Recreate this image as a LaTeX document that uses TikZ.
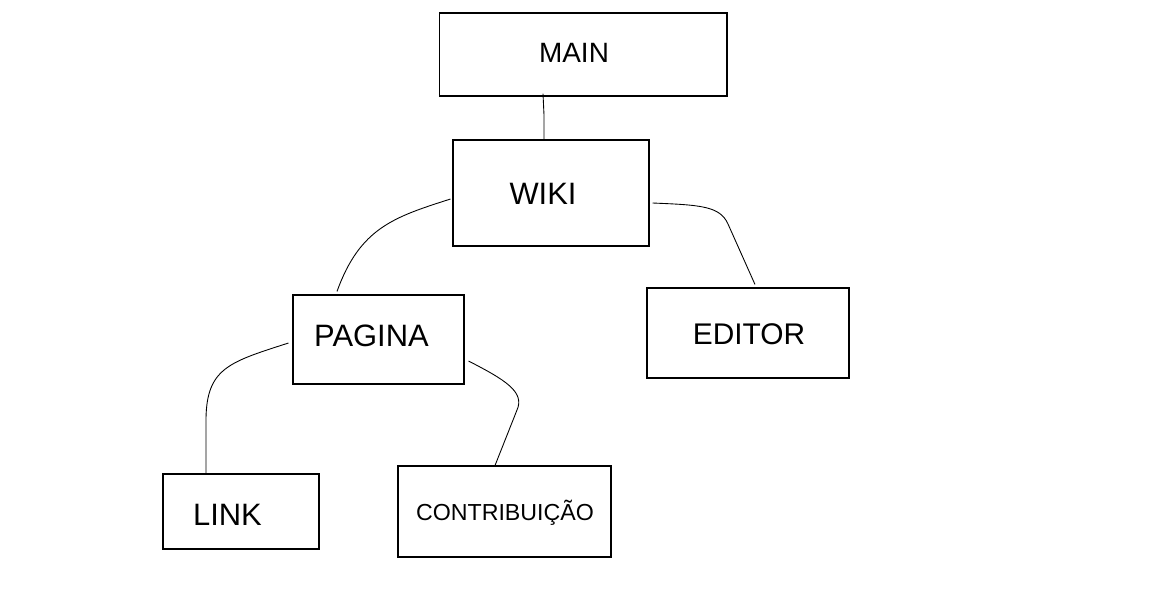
\documentclass[tikz,border=0pt]{standalone}
\usepackage{fontspec}
\setmainfont{Liberation Sans}
\usetikzlibrary{positioning}
\tikzset{
  box/.style={draw, line width=0.6pt, inner sep=0pt},
  txt/.style={anchor=base, inner sep=0pt},
  wire/.style={line width=0.5pt}
}
\newcommand{\fbig}{\fontsize{17.6pt}{20pt}\selectfont}
\newcommand{\fmid}{\fontsize{15.9pt}{19pt}\selectfont}
\newcommand{\fed}{\fontsize{17pt}{20pt}\selectfont}
\newcommand{\fsmall}{\fontsize{13.2pt}{16pt}\selectfont}

\begin{document}
\begin{tikzpicture}[x=0.02cm, y=-0.02cm]
\useasboundingbox (0,0) rectangle (1164,589);

% ---------------- Boxes ----------------
\node[box, minimum width=5.76cm, minimum height=1.66cm] (main)   at (583,54.5)  {};
\node[box, minimum width=3.92cm, minimum height=2.12cm] (wiki)   at (551,193)   {};
\node[box, minimum width=3.42cm, minimum height=1.78cm] (pagina) at (378.5,339.5) {};
\node[box, minimum width=4.04cm, minimum height=1.80cm] (editor) at (748,333)   {};
\node[box, minimum width=3.12cm, minimum height=1.50cm] (link)   at (241,511.5) {};
\node[box, minimum width=4.26cm, minimum height=1.82cm] (contrib) at (504.5,511.5) {};

% ---------------- Labels ----------------
\node[txt, font=\fmid]   (main-t)    at (574,62)    {MAIN};
\node[txt, font=\fbig]   (wiki-t)    at (543,204)   {WIKI};
\node[txt, font=\fbig]   (pagina-t)  at (371.5,346.5) {PAGINA};
\node[txt, font=\fed]    (editor-t)  at (749,344.5) {EDITOR};
\node[txt, font=\fbig]   (link-t)    at (227.5,525) {LINK};
\node[txt, font=\fsmall] (contrib-t) at (505,520)   {CONTRIBUIÇÃO};

% ---------------- Connectors ----------------
\draw[wire] ([shift={(-40,-3)}]main.south) -- (544,115) -- ([shift={(-7,0)}]wiki.north);
\draw[wire] ([shift={(-2,6)}]wiki.west)
  .. controls +(-56,18) and +(23,-64) .. ([shift={(-41.5,-3)}]pagina.north);
\draw[wire] ([shift={(3,10)}]wiki.east)
  .. controls +(48,2) and +(-8,-18) .. (728,224)
  -- ([shift={(7,-3)}]editor.north);
\draw[wire] ([shift={(-4,3.5)}]pagina.west)
  .. controls +(-59,19) and +(1,-50) .. (206,418)
  -- ([shift={(-35,0)}]link.north);
\draw[wire] ([shift={(4,21.5)}]pagina.east)
  .. controls +(37,19) and +(8,-18) .. (517,410)
  -- ([shift={(-9.5,0)}]contrib.north);

\end{tikzpicture}
\end{document}
